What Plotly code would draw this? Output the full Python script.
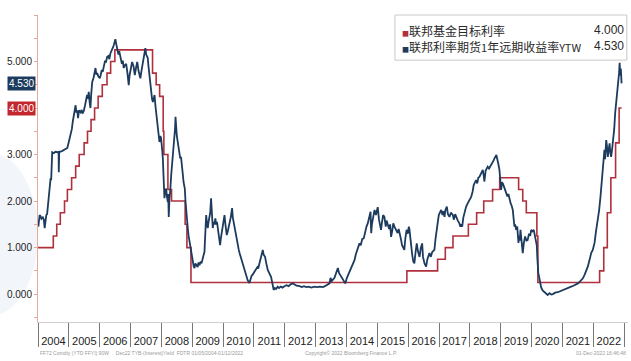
import plotly.graph_objects as go

# Fed funds target rate (upper bound), change dates and levels
fdtr_dates = [
    "2004-01-01", "2004-06-30", "2004-08-10", "2004-09-21", "2004-11-10", "2004-12-14",
    "2005-02-02", "2005-03-22", "2005-05-03", "2005-06-30", "2005-08-09", "2005-09-20",
    "2005-11-01", "2005-12-13", "2006-01-31", "2006-03-28", "2006-05-10", "2006-06-29",
    "2007-09-18", "2007-10-31", "2007-12-11", "2008-01-22", "2008-01-30", "2008-03-18",
    "2008-04-30", "2008-10-08", "2008-10-29", "2008-12-16", "2015-12-16", "2016-12-14",
    "2017-03-15", "2017-06-14", "2017-12-13", "2018-03-21", "2018-06-13", "2018-09-26",
    "2018-12-19", "2019-07-31", "2019-09-18", "2019-10-30", "2020-03-03", "2020-03-15",
    "2022-03-16", "2022-05-04", "2022-06-15", "2022-07-27", "2022-09-21", "2022-11-02",
    "2022-12-01",
]
fdtr_rate = [
    1.00, 1.25, 1.50, 1.75, 2.00, 2.25,
    2.50, 2.75, 3.00, 3.25, 3.50, 3.75,
    4.00, 4.25, 4.50, 4.75, 5.00, 5.25,
    4.75, 4.50, 4.25, 3.50, 3.00, 2.25,
    2.00, 1.50, 1.00, 0.25, 0.50, 0.75,
    1.00, 1.25, 1.50, 1.75, 2.00, 2.25,
    2.50, 2.25, 2.00, 1.75, 1.25, 0.25,
    0.50, 1.00, 1.75, 2.50, 3.25, 4.00,
    4.00,
]

# Fed funds futures 1-year forward yield (YTW)
fwd_dates = [
    # 2004
    "2004-01-05", "2004-01-12", "2004-01-20", "2004-01-30", "2004-02-10", "2004-02-27",
    "2004-03-10", "2004-03-20", "2004-03-28", "2004-04-08", "2004-04-18", "2004-04-28",
    "2004-05-08", "2004-05-18", "2004-05-29", "2004-06-05", "2004-06-12", "2004-06-17",
    "2004-07-06", "2004-07-25", "2004-08-19", "2004-09-01", "2004-09-03", "2004-09-08",
    "2004-10-15", "2004-11-10", "2004-12-13",
    # 2005
    "2005-01-01", "2005-01-10", "2005-01-20", "2005-02-05", "2005-02-15", "2005-02-28",
    "2005-03-10", "2005-03-21", "2005-03-30", "2005-04-10", "2005-04-19", "2005-05-01",
    "2005-05-18", "2005-06-01", "2005-06-10", "2005-06-25", "2005-07-10", "2005-07-20",
    "2005-08-04", "2005-08-14", "2005-08-24", "2005-09-02", "2005-09-13", "2005-09-22",
    "2005-10-04", "2005-10-20", "2005-11-01", "2005-11-12", "2005-11-22", "2005-12-02",
    "2005-12-15",
    # 2006
    "2006-01-01", "2006-01-11", "2006-01-25", "2006-02-05", "2006-02-18", "2006-03-05",
    "2006-03-15", "2006-03-30", "2006-04-15", "2006-04-25", "2006-05-08", "2006-05-20",
    "2006-06-05", "2006-06-16", "2006-06-25", "2006-07-05", "2006-07-15", "2006-07-26",
    "2006-08-10", "2006-08-20", "2006-09-02", "2006-09-20", "2006-10-01", "2006-10-12",
    "2006-10-25", "2006-11-10", "2006-11-25", "2006-12-10", "2006-12-20",
    # 2007
    "2007-01-05", "2007-01-19", "2007-02-05", "2007-02-20", "2007-03-05", "2007-03-21",
    "2007-04-05", "2007-04-15", "2007-04-27", "2007-05-10", "2007-05-25", "2007-06-10",
    "2007-06-25", "2007-07-05", "2007-07-23", "2007-08-01", "2007-08-11", "2007-08-20",
    "2007-09-02", "2007-09-12", "2007-09-22", "2007-10-02", "2007-10-12", "2007-10-22",
    "2007-10-31", "2007-11-10", "2007-11-18", "2007-11-28", "2007-12-09", "2007-12-20",
    "2007-12-29",
    # 2008
    "2008-01-10", "2008-01-18", "2008-01-29", "2008-02-06", "2008-02-15", "2008-02-26",
    "2008-03-06", "2008-03-17", "2008-03-22", "2008-03-28", "2008-04-05", "2008-04-14",
    "2008-04-26", "2008-05-05", "2008-05-15", "2008-05-25", "2008-06-02", "2008-06-10",
    "2008-06-16", "2008-06-23", "2008-07-01", "2008-07-10", "2008-07-25", "2008-08-03",
    "2008-08-11", "2008-08-20", "2008-09-03", "2008-09-12", "2008-09-19", "2008-10-04",
    "2008-10-12", "2008-10-20", "2008-10-30", "2008-11-08", "2008-11-18", "2008-11-28",
    "2008-12-08", "2008-12-18", "2008-12-28",
    # 2009
    "2009-01-07", "2009-01-17", "2009-01-27", "2009-02-06", "2009-02-16", "2009-03-05",
    "2009-03-15", "2009-03-27", "2009-04-10", "2009-04-20", "2009-05-05", "2009-05-15",
    "2009-05-25", "2009-06-01", "2009-06-08", "2009-06-14", "2009-06-22", "2009-07-03",
    "2009-07-12", "2009-07-23", "2009-08-01", "2009-08-11", "2009-08-18", "2009-08-31",
    "2009-09-10", "2009-09-20", "2009-10-01", "2009-10-10", "2009-10-20", "2009-10-29",
    "2009-11-10", "2009-11-20", "2009-11-26", "2009-12-05", "2009-12-20", "2009-12-30",
    # 2010
    "2010-01-10", "2010-01-17", "2010-01-28", "2010-02-05", "2010-02-13", "2010-02-25",
    "2010-03-08", "2010-03-20", "2010-04-01", "2010-04-10", "2010-04-17", "2010-04-25",
    "2010-05-05", "2010-05-14", "2010-05-25", "2010-06-08", "2010-06-22", "2010-07-05",
    "2010-07-15", "2010-08-01", "2010-08-15", "2010-08-25", "2010-09-09", "2010-09-25",
    "2010-10-05", "2010-10-18", "2010-11-08", "2010-11-25", "2010-12-05", "2010-12-17",
    # 2011
    "2011-01-05", "2011-01-26", "2011-02-10", "2011-02-20", "2011-03-07", "2011-03-20",
    "2011-04-01", "2011-04-15", "2011-04-25", "2011-05-12", "2011-05-28", "2011-06-13",
    "2011-07-01", "2011-07-22", "2011-08-05", "2011-08-12", "2011-08-22", "2011-09-05",
    "2011-09-20", "2011-10-08", "2011-10-25", "2011-11-15", "2011-12-05", "2011-12-27",
    # 2012
    "2012-01-20", "2012-02-15", "2012-03-10", "2012-04-05", "2012-04-28", "2012-05-20",
    "2012-06-24", "2012-07-20", "2012-08-15", "2012-09-10", "2012-10-10", "2012-11-10",
    "2012-12-17",
    # 2013
    "2013-01-20", "2013-02-20", "2013-03-26", "2013-04-20", "2013-05-15", "2013-06-13",
    "2013-06-25", "2013-07-10", "2013-08-11", "2013-09-05", "2013-09-20", "2013-10-05",
    "2013-10-30", "2013-11-15", "2013-12-01", "2013-12-17",
    # 2014
    "2014-01-05", "2014-01-20", "2014-02-06", "2014-03-01", "2014-03-20", "2014-04-05",
    "2014-04-20", "2014-05-05", "2014-05-20", "2014-06-03", "2014-06-18", "2014-07-05",
    "2014-07-24", "2014-08-10", "2014-08-25", "2014-09-09", "2014-09-25", "2014-10-05",
    "2014-10-12", "2014-10-16", "2014-10-20", "2014-10-28", "2014-11-10", "2014-11-28",
    "2014-12-15",
    # 2015
    "2015-01-05", "2015-01-20", "2015-02-01", "2015-02-13", "2015-02-25", "2015-03-10",
    "2015-03-25", "2015-04-10", "2015-04-20", "2015-05-03", "2015-05-20", "2015-06-01",
    "2015-06-12", "2015-06-25", "2015-07-08", "2015-07-22", "2015-08-10", "2015-08-29",
    "2015-09-10", "2015-09-25", "2015-10-08", "2015-10-20", "2015-11-01", "2015-11-16",
    "2015-11-28", "2015-12-13", "2015-12-28",
    # 2016
    "2016-01-08", "2016-01-15", "2016-01-28", "2016-02-08", "2016-02-17", "2016-03-01",
    "2016-03-14", "2016-03-28", "2016-04-11", "2016-04-25", "2016-05-14", "2016-05-28",
    "2016-06-14", "2016-06-24", "2016-07-05", "2016-07-12", "2016-07-31", "2016-08-15",
    "2016-09-08", "2016-09-25", "2016-10-10", "2016-11-06", "2016-11-20", "2016-12-05",
    "2016-12-16", "2016-12-28",
    # 2017
    "2017-01-10", "2017-01-25", "2017-02-10", "2017-02-20", "2017-03-06", "2017-03-15",
    "2017-04-02", "2017-04-15", "2017-05-04", "2017-05-20", "2017-06-12", "2017-06-25",
    "2017-07-10", "2017-07-22", "2017-08-10", "2017-08-29", "2017-09-10", "2017-09-20",
    "2017-10-01", "2017-10-15", "2017-11-01", "2017-11-17", "2017-12-05", "2017-12-20",
    # 2018
    "2018-01-15", "2018-02-01", "2018-02-15", "2018-03-01", "2018-03-14", "2018-03-28",
    "2018-04-10", "2018-04-23", "2018-05-10", "2018-05-22", "2018-06-02", "2018-06-12",
    "2018-06-21", "2018-07-05", "2018-07-30", "2018-08-15", "2018-09-08", "2018-09-25",
    "2018-10-10", "2018-10-18", "2018-11-01", "2018-11-10", "2018-11-18", "2018-11-25",
    "2018-12-05", "2018-12-16", "2018-12-26",
    # 2019
    "2019-01-05", "2019-01-15", "2019-01-25", "2019-02-10", "2019-02-20", "2019-03-06",
    "2019-03-20", "2019-04-01", "2019-04-13", "2019-04-28", "2019-05-10", "2019-05-23",
    "2019-06-03", "2019-06-12", "2019-06-20", "2019-07-02", "2019-07-15", "2019-07-29",
    "2019-08-05", "2019-08-14", "2019-08-22", "2019-09-05", "2019-09-18", "2019-10-01",
    "2019-10-16", "2019-11-01", "2019-11-15", "2019-12-01", "2019-12-15", "2019-12-27",
    # 2020
    "2020-01-10", "2020-01-26", "2020-02-10", "2020-02-23", "2020-03-02", "2020-03-08",
    "2020-03-13", "2020-03-20", "2020-03-30", "2020-04-10", "2020-04-22", "2020-05-10",
    "2020-06-01", "2020-06-20", "2020-07-09", "2020-08-01", "2020-08-20", "2020-09-08",
    "2020-10-05", "2020-11-06", "2020-12-05",
    # 2021
    "2021-01-05", "2021-01-26", "2021-02-20", "2021-03-15", "2021-04-13", "2021-05-10",
    "2021-06-05", "2021-07-02", "2021-07-25", "2021-08-15", "2021-08-30", "2021-09-20",
    "2021-10-10", "2021-10-27", "2021-11-15", "2021-12-06", "2021-12-25",
    # 2022
    "2022-01-15", "2022-02-01", "2022-02-15", "2022-02-24", "2022-03-10", "2022-03-26",
    "2022-04-08", "2022-04-24", "2022-05-03", "2022-05-12", "2022-05-20", "2022-06-02",
    "2022-06-10", "2022-06-21", "2022-07-01", "2022-07-12", "2022-07-20", "2022-07-30",
    "2022-08-10", "2022-08-26", "2022-09-05", "2022-09-16", "2022-09-28", "2022-10-09",
    "2022-10-20", "2022-11-01", "2022-11-08", "2022-11-15", "2022-11-22", "2022-11-27",
    "2022-12-01",
]
fwd_yield = [
    # 2004
    1.45, 1.55, 1.70, 1.68, 1.62, 1.65,
    1.60, 1.42, 1.55, 1.70, 1.72, 1.95,
    2.13, 2.30, 2.49, 2.45, 2.95, 3.05,
    3.03, 3.06, 3.05, 3.06, 2.62, 3.05,
    3.08, 3.10, 3.14,
    # 2005
    3.28, 3.35, 3.48, 3.55, 3.70, 3.85,
    3.95, 4.06, 3.90, 3.95, 3.78, 3.95,
    3.91, 3.96, 3.88, 3.93, 4.05, 4.15,
    4.28, 4.20, 4.35, 4.15, 4.00, 4.30,
    4.56, 4.65, 4.78, 4.86, 4.72, 4.75,
    4.68,
    # 2006
    4.64, 4.70, 4.82, 4.78, 4.92, 5.02,
    4.98, 5.10, 5.12, 5.05, 5.18, 5.22,
    5.30, 5.35, 5.40, 5.48, 5.38, 5.30,
    5.15, 5.22, 5.08, 4.95, 5.02, 4.86,
    4.92, 4.95, 4.75, 4.49, 4.70,
    # 2007
    4.85, 4.99, 4.90, 4.71, 4.85, 4.99,
    4.80, 4.70, 4.64, 4.80, 4.99, 5.15,
    5.29, 5.15, 5.08, 4.90, 4.71, 4.55,
    4.35, 4.20, 4.13, 4.22, 4.28, 4.05,
    3.91, 3.75, 3.63, 3.45, 3.27, 3.40,
    3.34,
    # 2008
    3.10, 2.92, 2.41, 2.06, 2.20, 2.27,
    2.10, 1.98, 2.15, 1.66, 2.05, 2.20,
    2.56, 2.75, 2.99, 3.20, 3.27, 3.55,
    3.81, 3.55, 3.41, 3.30, 3.14, 3.00,
    2.92, 2.95, 2.77, 2.55, 2.41, 2.27,
    2.00, 1.77, 1.60, 1.42, 1.25, 1.13,
    1.05, 0.99, 0.80,
    # 2009
    0.69, 0.60, 0.56, 0.66, 0.63, 0.58,
    0.68, 0.62, 0.70, 0.66, 0.77, 0.85,
    0.91, 1.20, 1.45, 1.70, 1.55, 1.42,
    1.55, 1.63, 1.75, 2.06, 1.70, 1.42,
    1.55, 1.50, 1.63, 1.50, 1.55, 1.42,
    1.25, 1.15, 1.05, 1.20, 1.42, 1.55,
    # 2010
    1.62, 1.70, 1.50, 1.40, 1.27, 1.35,
    1.42, 1.55, 1.65, 1.80, 1.85, 1.65,
    1.55, 1.42, 1.30, 1.20, 1.05, 0.95,
    0.88, 0.77, 0.68, 0.62, 0.56, 0.45,
    0.36, 0.30, 0.24, 0.35, 0.40, 0.42,
    # 2011
    0.48, 0.52, 0.58, 0.55, 0.66, 0.75,
    0.85, 0.95, 0.85, 0.80, 0.65, 0.52,
    0.45, 0.37, 0.25, 0.12, 0.09, 0.13,
    0.11, 0.16, 0.13, 0.16, 0.14, 0.17,
    # 2012
    0.19, 0.17, 0.21, 0.23, 0.20, 0.18,
    0.17, 0.15, 0.17, 0.15, 0.16, 0.14,
    0.16,
    # 2013
    0.15, 0.16, 0.15, 0.17, 0.20, 0.23,
    0.35, 0.28, 0.35, 0.50, 0.56, 0.45,
    0.37, 0.30, 0.27, 0.23,
    # 2014
    0.35, 0.42, 0.49, 0.58, 0.70, 0.73,
    0.85, 0.95, 1.00, 1.09, 1.05, 1.18,
    1.20, 1.35, 1.45, 1.52, 1.65, 1.75,
    1.77, 1.50, 1.31, 1.50, 1.65, 1.81,
    1.70,
    # 2015
    1.87, 1.60, 1.50, 1.38, 1.55, 1.70,
    1.66, 1.45, 1.58, 1.52, 1.40, 1.50,
    1.23, 1.35, 1.52, 1.45, 1.38, 1.31,
    1.40, 1.22, 1.17, 1.05, 1.00, 0.95,
    1.20, 1.38, 1.30,
    # 2016
    1.45, 1.40, 1.15, 0.95, 0.85, 0.70,
    0.66, 0.90, 1.09, 0.92, 0.80, 0.98,
    1.09, 0.80, 0.72, 0.66, 0.59, 0.75,
    0.88, 0.80, 0.90, 0.95, 1.20, 1.40,
    1.59, 1.70,
    # 2017
    1.75, 1.81, 1.70, 1.78, 1.66, 1.80,
    1.88, 1.72, 1.66, 1.75, 1.70, 1.60,
    1.72, 1.66, 1.58, 1.52, 1.45, 1.50,
    1.45, 1.65, 1.78, 1.88, 1.95, 2.00,
    # 2018
    2.09, 2.20, 2.35, 2.40, 2.45, 2.38,
    2.50, 2.52, 2.60, 2.65, 2.67, 2.55,
    2.42, 2.65, 2.74, 2.70, 2.77, 2.85,
    2.88, 2.92, 2.95, 2.99, 2.92, 2.88,
    2.78, 2.67, 2.45,
    # 2019
    2.24, 2.40, 2.38, 2.30, 2.25, 2.17,
    2.10, 2.15, 2.03, 1.95, 1.90, 1.81,
    1.60, 1.45, 1.50, 1.38, 1.45, 1.10,
    1.25, 1.15, 1.38, 1.10, 0.88, 1.10,
    1.24, 1.15, 1.16, 1.30, 1.25, 1.38,
    # 2020
    1.35, 1.38, 1.25, 1.16, 1.05, 0.80,
    0.60, 0.45, 0.37, 0.25, 0.15, 0.08,
    0.04, 0.00, -0.02, 0.02, -0.01, 0.00,
    0.03, 0.04, 0.06,
    # 2021
    0.08, 0.09, 0.12, 0.14, 0.16, 0.18,
    0.20, 0.23, 0.27, 0.30, 0.34, 0.42,
    0.50, 0.59, 0.72, 0.88, 0.95,
    # 2022
    1.10, 1.35, 1.50, 1.59, 1.80, 2.09,
    2.35, 2.67, 2.95, 3.10, 2.90, 3.31,
    3.20, 2.95, 3.10, 3.24, 3.05, 2.95,
    3.10, 3.31, 3.55, 3.89, 4.10, 4.25,
    4.55, 4.75, 4.97, 4.70, 4.85, 4.61,
    4.53,
]

y_ticks = [0, 1, 2, 3, 5]

RED = "#b1303d"
NAVY = "#1c3b5e"
LABEL_RED = "#c1272d"

legend_names = ["联邦基金目标利率", "联邦利率期货1年远期收益率YTW"]
last_fdtr = fdtr_rate[-1]
last_fwd = fwd_yield[-1]

fig = go.Figure()

fig.add_trace(go.Scatter(
    x=fdtr_dates, y=fdtr_rate, mode="lines", line_shape="hv",
    line=dict(color=RED, width=1.6), name=legend_names[0], showlegend=False,
))
fig.add_trace(go.Scatter(
    x=fwd_dates, y=fwd_yield, mode="lines",
    line=dict(color=NAVY, width=1.8), name=legend_names[1], showlegend=False,
))

# faint watermark disc on the left edge
fig.add_shape(type="circle", xref="paper", yref="paper",
              x0=-0.16, x1=0.0, y0=0.02, y1=0.55,
              fillcolor="#f2f6fb", line=dict(width=0), layer="below")

# legend box
fig.add_shape(type="rect", xref="paper", yref="paper",
              x0=0.605, x1=0.998, y0=0.853, y1=1.0,
              fillcolor="white", line=dict(color="#c9c9c9", width=1))

font_cjk = "Noto Sans CJK SC, Liberation Sans, sans-serif"
font_num = "Liberation Sans, Arial, sans-serif"
legend_labels = [
    legend_names[0],
    "联邦利率期货<span style='font-size:11px'>1</span>年远期收益率"
    "<span style='font-size:11px'>YTW</span>",
]
legend_colors = [RED, NAVY]
legend_values = [last_fdtr, last_fwd]

legend_text = "<br>".join(
    f"<span style='color:{c};font-size:7px'>■</span>{lab}"
    for lab, c in zip(legend_labels, legend_colors)
)
value_text = "<br>".join(f"{v:.3f}" for v in legend_values)

fig.add_annotation(
    xref="paper", yref="paper", x=0.614, y=0.925, xanchor="left", yanchor="middle",
    text=legend_text, align="left", showarrow=False,
    font=dict(family=font_cjk, size=12, color="#2a2a2a"),
)
fig.add_annotation(
    xref="paper", yref="paper", x=0.997, y=0.925, xanchor="right", yanchor="middle",
    text=value_text, align="right", showarrow=False,
    font=dict(family=font_num, size=12, color="#2a2a2a"),
)

# last-value tags on the y axis
for val, col in [(last_fwd, NAVY), (last_fdtr, LABEL_RED)]:
    fig.add_annotation(
        xref="paper", yref="y", x=0, y=val, xanchor="right", yanchor="middle",
        xshift=-2, text=f"{val:.3f}", showarrow=False, bgcolor=col, borderpad=1,
        font=dict(family=font_num, size=10, color="white"),
    )

# footer
footer = [
    (0.0, "left", "FF72 Comdty (YTD FFYI) 90W     Dec22 TYB-(Interest)Yield  FDTR 01/05/2004-01/12/2022"),
    (0.53, "center", "Copyright© 2022 Bloomberg Finance L.P."),
    (1.0, "right", "01-Dec-2022 16:46:48"),
]
for xp, anchor, txt in footer:
    fig.add_annotation(
        xref="paper", yref="paper", x=xp, y=-0.1, xanchor=anchor, yanchor="middle",
        text=txt, showarrow=False,
        font=dict(family=font_num, size=5, color="#9a9a9a"),
    )

fig.update_layout(
    width=631, height=361,
    margin=dict(l=38, r=3, t=15, b=39),
    paper_bgcolor="white", plot_bgcolor="white",
    showlegend=False,
    xaxis=dict(
        type="date", range=["2004-01-01", "2023-02-15"],
        tick0="2004-01-01", dtick="M12", tickformat="%Y", ticklabelmode="period",
        ticks="outside", ticklen=24, tickcolor="#777", tickwidth=1,
        ticklabelstandoff=-15,
        showline=True, linecolor="#cfcfcf", linewidth=1, showgrid=False, zeroline=False,
        tickfont=dict(family=font_num, size=11, color="#222"),
    ),
    yaxis=dict(
        range=[-0.6, 6.0], tickvals=y_ticks, tickformat=".3f",
        ticks="outside", ticklen=3, tickcolor="#e6a59a",
        minor=dict(ticks="outside", dtick=0.5, tick0=0, ticklen=3, tickcolor="#e6a59a"),
        showline=True, linecolor="#e8a99e", linewidth=1, showgrid=False, zeroline=False,
        tickfont=dict(family=font_num, size=10, color="#222"),
    ),
)

fig.write_html("out.html")
